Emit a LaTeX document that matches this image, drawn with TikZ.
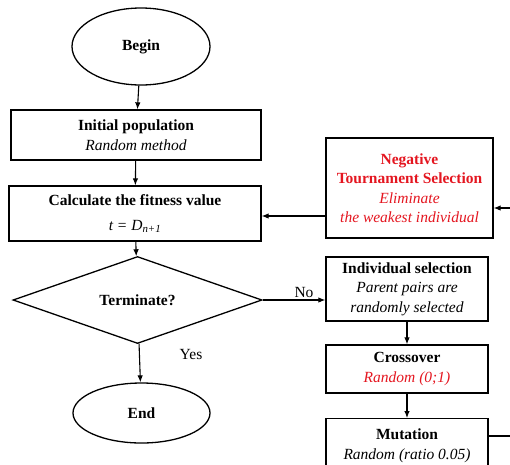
\documentclass[tikz,border=0pt]{standalone}
\usepackage{fontspec}
\setmainfont{Liberation Serif}
\usetikzlibrary{shapes.geometric,arrows.meta,calc}
\definecolor{nred}{RGB}{228,22,32}
\begin{document}
\begin{tikzpicture}[x=1pt,y=-1pt,
  every node/.style={font=\fontsize{15.5}{19.5}\selectfont},
  box/.style={draw,line width=1.3pt,rectangle,inner sep=0pt,align=center},
  oval/.style={draw,line width=1.3pt,ellipse,inner sep=0pt},
  dia/.style={draw,line width=1.3pt,diamond,inner sep=0pt},
  arr/.style={line width=1.1pt,-{Latex[length=7pt,width=5.5pt]}},
  lbl/.style={inner sep=0pt}]
\useasboundingbox (0,0) rectangle (510,464);
\node[oval,minimum width=138pt,minimum height=77pt] (begin) at (141,46.5) {\textbf{Begin}};
\node[box,minimum width=250pt,minimum height=50pt] (init) at (136,135)
  {\textbf{Initial population}\\ \textit{Random method}};
\node[box,minimum width=252pt,minimum height=55pt] (calc) at (135,213.5)
  {\textbf{Calculate the fitness value}\\[5pt] \textit{t = D\textsubscript{n+1}}};
\node[dia,minimum width=249pt,minimum height=68pt] (term) at (137.5,300) {\textbf{Terminate?}};
\node[oval,minimum width=137pt,minimum height=60pt] (end) at (141.5,413) {\textbf{End}};
\node[box,minimum width=167pt,minimum height=100pt,text=nred] (nts) at (409.5,188)
  {\textbf{Negative}\\ \textbf{Tournament Selection}\\ \textit{Eliminate}\\ \textit{the weakest individual}};
\node[box,minimum width=162pt,minimum height=64pt] (ind) at (407,289)
  {\textbf{Individual selection}\\ \textit{Parent pairs are}\\ \textit{randomly selected}};
\node[box,minimum width=162pt,minimum height=48pt] (cross) at (407,369)
  {\textbf{Crossover}\\ \textcolor{nred}{\textit{Random (0;1)}}};
\node[box,minimum width=162pt,minimum height=54pt,anchor=north] (mut) at (407,418)
  {\textbf{Mutation}\\ \textit{Random (ratio 0.05)}};
\node[lbl] (no) at (304,292) {No};
\node[lbl] (yes) at (191,354) {Yes};
\coordinate (r1) at (525,436);
\coordinate (r2) at (525,208);
\coordinate (h1) at (0,216);
\draw[arr] (begin) -- (init);
\draw[arr] (init) -- (calc);
\draw[arr] (calc) -- (term);
\draw[arr] (term) -- (end);
\draw[arr] (term.east) -- (term.east -| ind.west);
\draw[arr] (ind) -- (cross);
\draw[arr] (cross) -- (mut);
\draw[arr] (nts.west |- h1) -- (calc.east |- h1);
\draw[arr] (mut.east |- r1) -- (r1) -- (r2) -- (nts.east |- r2);
\end{tikzpicture}
\end{document}
